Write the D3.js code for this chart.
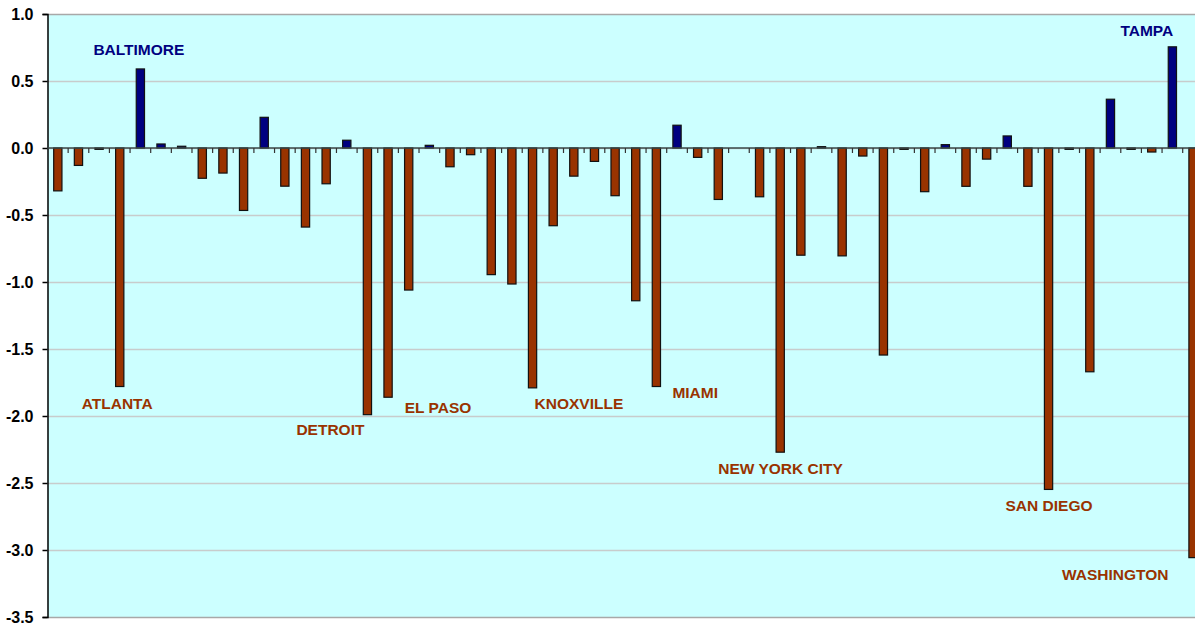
<!DOCTYPE html>
<html>
<head>
<meta charset="utf-8">
<script src="https://cdn.jsdelivr.net/npm/d3@7"></script>
<style>
  html, body { margin: 0; padding: 0; background: #ffffff; }
  svg { display: block; }
</style>
</head>
<body>
<svg id="chart" width="1195" height="625"></svg>
<script>
// ---- data ----
const categories = d3.range(1, 57).map(i => "C" + i);
const values = [
  -0.32, -0.13, -0.01, -1.78, 0.59, 0.03, 0.013, -0.226, -0.187, -0.466,
  0.229, -0.285, -0.59, -0.267, 0.058, -1.99, -1.86, -1.06, 0.02, -0.14,
  -0.05, -0.945, -1.015, -1.79, -0.58, -0.21, -0.10, -0.356, -1.14, -1.78,
  0.17, -0.07, -0.384, null, -0.364, -2.27, -0.80, 0.01, -0.805, -0.06,
  -1.545, -0.01, -0.326, 0.025, -0.286, -0.083, 0.09, -0.286, -2.548, -0.01,
  -1.67, 0.364, -0.01, -0.03, 0.755, -3.057
];
const yTicks = [1.0, 0.5, 0.0, -0.5, -1.0, -1.5, -2.0, -2.5, -3.0, -3.5];
const labelNames = ["ATLANTA", "BALTIMORE", "DETROIT", "EL PASO", "KNOXVILLE", "MIAMI", "NEW YORK CITY", "SAN DIEGO", "TAMPA", "WASHINGTON"];
const labelIndex = [3, 4, 15, 17, 23, 29, 35, 48, 54, 55];

// ---- layout ----
const svg = d3.select("#chart");
const mLeft = 47.5, mTop = 14, mBottom = 617;
const band = 20.64;
const mRight = mLeft + band * categories.length;
const posColor = "#000080", negColor = "#993300";
// label offsets relative to bar centre / bar end (layout only)
const labelOffsets = {
  "ATLANTA": [-38, 22], "BALTIMORE": [-47, -14], "DETROIT": [-71, 20],
  "EL PASO": [-4, 123], "KNOXVILLE": [2, 21], "MIAMI": [16, 11],
  "NEW YORK CITY": [-62, 22], "SAN DIEGO": [-43, 22], "TAMPA": [-52, -11],
  "WASHINGTON": [-131, 22]
};

const x = d3.scaleBand().domain(categories).range([mLeft, mRight]).paddingInner(0.6).paddingOuter(0.3);
const y = d3.scaleLinear().domain([-3.5, 1.0]).range([mBottom, mTop]);

// plot background
svg.append("rect").attr("x", mLeft).attr("y", mTop)
  .attr("width", mRight - mLeft).attr("height", mBottom - mTop)
  .attr("fill", "#ccffff");

// gridlines
svg.append("g").selectAll("line").data(yTicks).join("line")
  .attr("x1", mLeft).attr("x2", mRight)
  .attr("y1", d => Math.round(y(d)) + 0.5).attr("y2", d => Math.round(y(d)) + 0.5)
  .attr("stroke", d => (d === 1.0 || d === -3.5) ? "#a8a8a8" : "#c8cccc")
  .attr("stroke-width", 1.5);

// y axis
const yAxis = d3.axisLeft(y).tickValues(yTicks).tickFormat(d => d.toFixed(1)).tickSize(5).tickPadding(9);
const gy = svg.append("g").attr("transform", `translate(${mLeft},0)`).call(yAxis);
gy.select(".domain").attr("stroke", "#000").attr("stroke-width", 1.5);
gy.selectAll(".tick line").attr("stroke", "#000").attr("stroke-width", 1.5);
gy.selectAll(".tick text")
  .attr("font-family", "Liberation Sans, Arial, sans-serif")
  .attr("font-weight", "bold").attr("font-size", "16px").attr("fill", "#000");

// bars
const step = x.step();
svg.append("g").selectAll("rect").data(values.map((v, i) => ({v, c: categories[i]})).filter(d => d.v !== null))
  .join("rect")
  .attr("x", d => x(d.c))
  .attr("width", x.bandwidth())
  .attr("y", d => d.v >= 0 ? y(d.v) : y(0))
  .attr("height", d => Math.abs(y(d.v) - y(0)))
  .attr("fill", d => d.v >= 0 ? posColor : negColor)
  .attr("stroke", "#111")
  .attr("stroke-width", 1.2);

// zero line
svg.append("line").attr("x1", mLeft).attr("x2", mRight)
  .attr("y1", y(0)).attr("y2", y(0))
  .attr("stroke", "#3a4a4a").attr("stroke-width", 1.5);

// category ticks (below zero line, at band boundaries)
const gx = svg.append("g").attr("transform", `translate(0,${y(0)})`);
gx.selectAll("line.bound").data(categories.slice(1)).join("line")
  .attr("class", "bound")
  .attr("x1", d => x(d) - (step - x.bandwidth()) / 2)
  .attr("x2", d => x(d) - (step - x.bandwidth()) / 2)
  .attr("y1", 0).attr("y2", 5)
  .attr("stroke", "#333").attr("stroke-width", 1.2);

// city labels
svg.append("g").selectAll("text").data(labelNames).join("text")
  .attr("x", (d, i) => x(categories[labelIndex[i]]) + x.bandwidth() / 2 + labelOffsets[d][0])
  .attr("y", (d, i) => y(values[labelIndex[i]]) + labelOffsets[d][1])
  .attr("font-family", "Liberation Sans, Arial, sans-serif")
  .attr("font-weight", "bold").attr("font-size", "15.5px")
  .attr("fill", (d, i) => values[labelIndex[i]] >= 0 ? posColor : negColor)
  .text(d => d);
</script>
</body>
</html>
